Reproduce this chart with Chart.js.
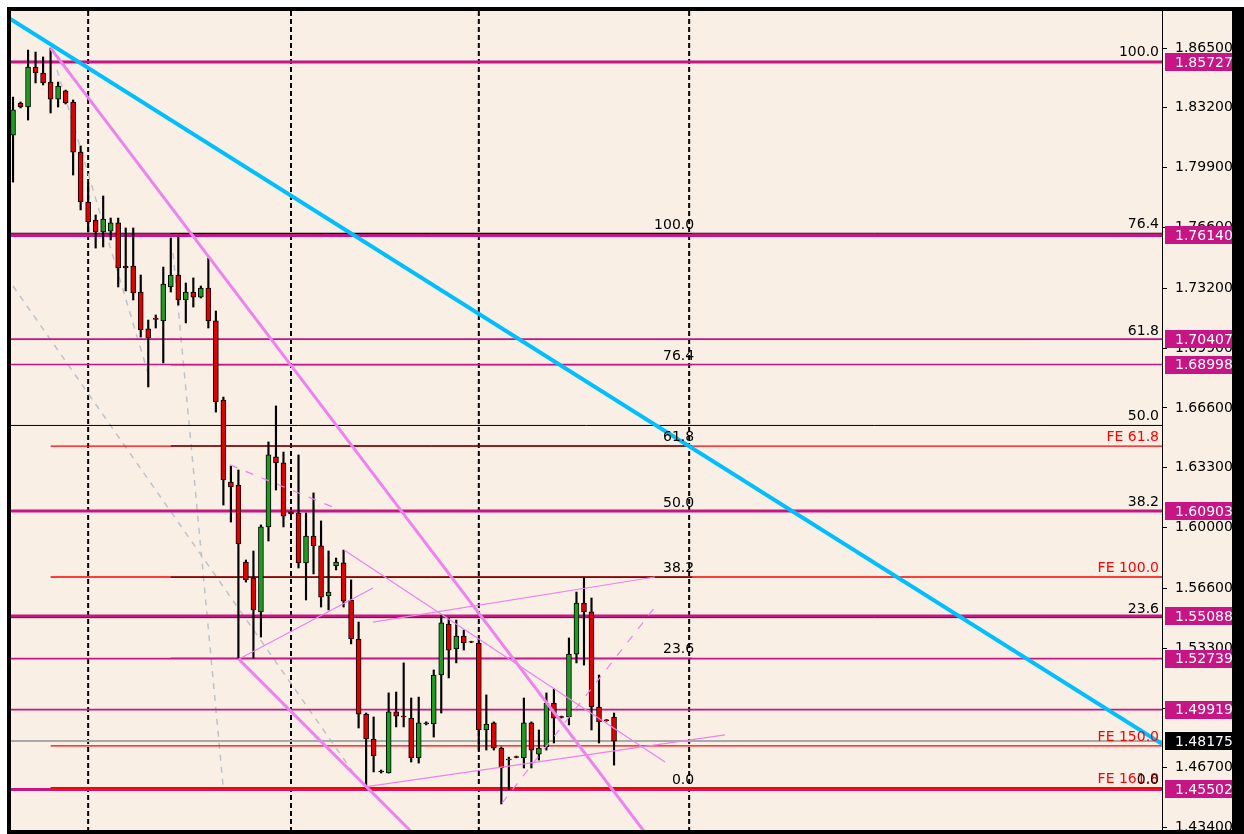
<!DOCTYPE html>
<html>
<head>
<meta charset="utf-8">
<script src="https://cdn.jsdelivr.net/npm/chart.js@4.4.0/dist/chart.umd.min.js"></script>
<style>
html,body{margin:0;padding:0;background:#fff;}
#wrap{width:1244px;height:834px;position:relative;}
canvas{display:block;}
</style>
</head>
<body>
<div id="wrap"><canvas id="c" width="1244" height="834"></canvas></div>
<script>
// ---------- DATA ----------
const barIndex = [0,1,2,3,4,5,6,7,8,9,10,11,12,13,14,15,16,17,18,19,20,21,22,23,24,25,26,27,28,29,30,31,32,33,34,35,36,37,38,39,40,41,42,43,44,45,46,47,48,49,50,51,52,53,54,55,56,57,58,59,60,61,62,63,64,65,66,67,68,69,70,71,72,73,74,75,76,77,78,79,80];

const opens = [1.8169,1.8346,1.8324,1.8545,1.8512,1.8462,1.8368,1.8413,1.8352,1.8075,
1.7799,1.7699,1.7633,1.7638,1.7683,1.7445,1.7445,1.7301,1.7097,1.7157,
1.7141,1.7329,1.7395,1.7257,1.7301,1.7273,1.7323,1.7141,1.6704,1.6250,
1.6234,1.5808,1.5720,1.5532,1.6002,1.6389,1.6356,1.6085,1.6079,1.5803,
1.5952,1.5897,1.5620,1.5786,1.5803,1.5598,1.5382,1.4967,1.4829,1.4652,
1.4641,1.4979,1.4956,1.4945,1.4724,1.4918,1.4912,1.5183,1.5465,1.5327,
1.5399,1.5368,1.5360,1.4879,1.4918,1.4779,1.4713,1.4732,1.4724,1.4918,
1.4746,1.4785,1.5028,1.4953,1.4951,1.5299,1.5581,1.5532,1.5006,1.4935,
1.4951];

const highs = [1.8379,1.8352,1.8639,1.8628,1.8601,1.8650,1.8462,1.8418,1.8363,1.8109,
1.7904,1.7727,1.7832,1.7710,1.7710,1.7655,1.7655,1.7395,1.7146,1.7174,
1.7439,1.7600,1.7605,1.7351,1.7379,1.7334,1.7489,1.7196,1.6720,1.6339,
1.6317,1.5819,1.5869,1.6013,1.6472,1.6671,1.6416,1.6090,1.6400,1.6079,
1.6190,1.6035,1.5869,1.5830,1.5874,1.5709,1.5476,1.4973,1.4951,1.4658,
1.5084,1.5089,1.5250,1.5056,1.5061,1.4924,1.5211,1.5515,1.5498,1.5487,
1.5432,1.5370,1.5382,1.5073,1.4924,1.4785,1.4729,1.4735,1.5056,1.4924,
1.4879,1.5084,1.5106,1.4956,1.5388,1.5642,1.5720,1.5609,1.5183,1.4937,
1.4973];

const lows = [1.7909,1.8319,1.8252,1.8457,1.8446,1.8291,1.8324,1.8341,1.7948,1.7755,
1.7633,1.7544,1.7550,1.7589,1.7329,1.7307,1.7257,1.7052,1.6776,1.7102,
1.6909,1.7301,1.7229,1.7130,1.7218,1.7268,1.7102,1.6637,1.6123,1.6029,
1.5277,1.5697,1.5277,1.5393,1.5924,1.6206,1.6002,1.6068,1.5775,1.5598,
1.5742,1.5559,1.5543,1.5764,1.5559,1.5355,1.4890,1.4558,1.4647,1.4641,
1.4641,1.4896,1.4896,1.4702,1.4696,1.4907,1.4840,1.4973,1.5167,1.5250,
1.5321,1.5362,1.4768,1.4768,1.4768,1.4470,1.4547,1.4725,1.4669,1.4669,
1.4713,1.4768,1.4807,1.4945,1.4907,1.5250,1.5238,1.4879,1.4807,1.4927,
1.4685];

const closes = [1.8308,1.8324,1.8545,1.8512,1.8457,1.8368,1.8440,1.8346,1.8075,1.7799,
1.7688,1.7633,1.7705,1.7683,1.7434,1.7434,1.7296,1.7091,1.7047,1.7149,
1.7345,1.7395,1.7257,1.7301,1.7273,1.7323,1.7141,1.6693,1.6262,1.6223,
1.5908,1.5709,1.5543,1.6002,1.6400,1.6356,1.6062,1.6074,1.5803,1.5952,
1.5897,1.5614,1.5642,1.5808,1.5592,1.5382,1.4967,1.4829,1.4735,1.4647,
1.4979,1.4956,1.4951,1.4724,1.4918,1.4913,1.5183,1.5471,1.5321,1.5399,
1.5360,1.5364,1.4879,1.4912,1.4779,1.4669,1.4718,1.4728,1.4918,1.4768,
1.4779,1.5028,1.4945,1.4949,1.5299,1.5581,1.5532,1.5006,1.4923,1.4930,
1.48175];

// y-axis tick labels
const yTicks = [1.865,1.832,1.799,1.766,1.732,1.699,1.666,1.633,1.600,1.566,1.533,1.500,1.467,1.434];

// horizontal price levels (magenta) and which are drawn heavy
const levelPrices = [1.85727,1.76140,1.70407,1.68998,1.60903,1.55088,1.52739,1.49919,1.45502];
const levelHeavy  = [true,true,false,false,true,true,false,false,true];

// current bid
const bidPrice = 1.48175;

// Fibonacci retracement A (full width) and B (bar 21 .. 90.4)
const fibLevels = [100,76.4,61.8,50,38.2,23.6,0];
const fibAHigh = 1.8576, fibALow = 1.45502;
const fibBHigh = 1.7624, fibBLow = 1.45502;
const fibBStartBar = 21, fibBEndBar = 90.4;

// Fibonacci expansion levels
const feNames  = ['FE 61.8','FE 100.0','FE 150.0','FE 161.8'];
const fePrices = [1.6449,1.5725,1.4791,1.4558];
const feStartBar = 5;

// period separators (bar index)
const separatorBars = [10,37,62,90];

// trend lines: [bar1, price1, bar2, price2]
const cyanLine    = [-0.13,1.8805,152.94,1.48017];
const violetRay1  = [5,1.8650,80,1.4538];
const violetRay2  = [30,1.5272,50,1.4442];
const thinSegments = [
  [30.08,1.5272,47.92,1.5664],
  [44.06,1.5875,86.79,1.4702],
  [47.92,1.5476,85.46,1.5725],
  [46.86,1.4564,94.78,1.4852]
];
const thinDashed = [
  [65.09,1.4475,85.46,1.5559],
  [28.88,1.6345,42.86,1.6107]
];
const grayDashed = [
  [0,1.7334,45.52,1.4630],
  [5.86,1.8529,18.24,1.6815],
  [21.3,1.7517,27.95,1.4575]
];

// ---------- CHART ----------
const XMIN = -0.27, XMAX = 152.94;
const YMIN = 1.4326, YMAX = 1.8855;
const FONT_FAMILY = '"DejaVu Sans", Verdana, sans-serif';
const MAGENTA = '#C71585';
const VIOLET = '#EE82EE';

function seg(a){ return [{x:a[0],y:a[1]},{x:a[2],y:a[3]}]; }
function ray(a, both){
  const s = (a[3]-a[1])/(a[2]-a[0]);
  const xe = XMAX + 10, xs = XMIN - 10;
  const pts = [];
  if (both) pts.push({x:xs, y:a[1] + s*(xs-a[0])});
  else pts.push({x:a[0], y:a[1]});
  pts.push({x:xe, y:a[1] + s*(xe-a[0])});
  return pts;
}
function lineDS(data, color, width, order, dash, clip){
  return {type:'line', data, borderColor:color, borderWidth:width, borderDash:dash||[],
          pointRadius:0, fill:false, tension:0, order, clip: clip===undefined?0:clip, spanGaps:true};
}

const datasets = [];
// trend lines
datasets.push(lineDS(ray(cyanLine,true), '#00BFFF', 4, 1));
datasets.push(lineDS(ray(violetRay1,false), VIOLET, 3, 1));
datasets.push(lineDS(ray(violetRay2,false), VIOLET, 3, 1));
thinSegments.forEach(s => datasets.push(lineDS(seg(s), VIOLET, 1.2, 2)));
thinDashed.forEach(s => datasets.push(lineDS(seg(s), VIOLET, 1.2, 2, [8,9])));
// candles
datasets.push({
  type:'bar', order:3, grouped:false, barThickness:5,
  data: barIndex.map((b,i)=>({x:b, y:[opens[i], closes[i]]})),
  backgroundColor: barIndex.map((b,i)=> closes[i] >= opens[i] ? '#1E9B1E' : '#E00000'),
  borderColor:'#000', borderWidth:1, borderSkipped:false
});
datasets.push({
  type:'bar', order:4, grouped:false, barThickness:1.5,
  data: barIndex.map((b,i)=>({x:b, y:[lows[i], highs[i]]})),
  backgroundColor:'#000', borderWidth:0
});
// magenta levels (above fib lines)
levelPrices.forEach((v,i) => datasets.push(lineDS([{x:XMIN,y:v},{x:XMAX,y:v}], MAGENTA, levelHeavy[i]?3:1.6, 4.5)));
// fib A
fibLevels.forEach(l => {
  const v = fibALow + (fibAHigh-fibALow)*l/100;
  datasets.push(lineDS([{x:XMIN,y:v},{x:XMAX,y:v}], '#000', 1, 5));
});
// fib B
fibLevels.forEach(l => {
  const v = fibBLow + (fibBHigh-fibBLow)*l/100;
  datasets.push(lineDS([{x:fibBStartBar,y:v},{x:fibBEndBar,y:v}], '#000', 1, 5));
});
// FE (last level drawn over the magenta support line)
fePrices.forEach((v,i) => datasets.push(lineDS([{x:feStartBar,y:v},{x:XMAX,y:v}], '#FF0000', i===3?2:1.3, i===3?4.3:6)));
// bid
datasets.push(lineDS([{x:XMIN,y:bidPrice},{x:XMAX,y:bidPrice}], '#A9A9A9', 2, 7));
// gray dashed
grayDashed.forEach(s => datasets.push(lineDS(seg(s), '#BCC3CC', 1.5, 9, [6,6])));
// separators
separatorBars.forEach(b => datasets.push(lineDS([{x:b,y:YMIN-0.01},{x:b,y:YMAX+0.01}], '#000', 2, 10, [5,3])));

const bgPlugin = {
  id:'bg',
  beforeDraw(chart){
    const ctx = chart.ctx;
    ctx.save();
    ctx.fillStyle = '#FAEFE5';
    ctx.fillRect(0,0,chart.width,chart.height);
    ctx.restore();
  }
};

const overlay = {
  id:'overlay',
  afterDatasetsDraw(chart){
    const {ctx, scales:{x,y}} = chart;
    ctx.save();
    ctx.font = '14px ' + FONT_FAMILY;
    ctx.textAlign = 'right';
    ctx.textBaseline = 'alphabetic';
    // FE labels
    ctx.fillStyle = '#FF0000';
    fePrices.forEach((v,i)=> ctx.fillText(feNames[i], x.right - 3, y.getPixelForValue(v) - 5));
    // fib A labels
    ctx.fillStyle = '#000';
    fibLevels.forEach(l => {
      const v = fibALow + (fibAHigh-fibALow)*l/100;
      ctx.fillText(l.toFixed(1), x.right - 3, y.getPixelForValue(v) - 5);
    });
    // fib B labels
    const xb = x.getPixelForValue(fibBEndBar) + 2;
    fibLevels.forEach(l => {
      const v = fibBLow + (fibBHigh-fibBLow)*l/100;
      ctx.fillText(l.toFixed(1), xb, y.getPixelForValue(v) - 5);
    });
    ctx.restore();
  },
  afterDraw(chart){
    const {ctx, scales:{y}, chartArea} = chart;
    ctx.save();
    ctx.font = '14px ' + FONT_FAMILY;
    ctx.textAlign = 'left';
    ctx.textBaseline = 'middle';
    const bx = chartArea.right + 3;
    function box(v, fill){
      const py = y.getPixelForValue(v);
      ctx.fillStyle = fill;
      ctx.fillRect(bx, Math.round(py) - 9, 90, 18);
      ctx.fillStyle = '#fff';
      ctx.fillText(v.toFixed(5), chartArea.right + 13, py + 1);
    }
    levelPrices.forEach(v => box(v, MAGENTA));
    box(bidPrice, '#000');
    // frame
    const W = chart.width, H = chart.height;
    ctx.fillStyle = '#fff';
    ctx.fillRect(0,0,W,7);
    ctx.fillRect(0,0,7,H);
    ctx.fillStyle = '#000';
    ctx.fillRect(7,7,W-7,4);
    ctx.fillRect(7,7,4,H-7);
    ctx.fillRect(1232,7,W-1232,H-7);
    ctx.fillRect(7,830,W-7,H-830);
    ctx.restore();
  }
};

new Chart(document.getElementById('c'), {
  type:'bar',
  data:{datasets},
  options:{
    responsive:false, animation:false, devicePixelRatio:1, events:[],
    layout:{padding:{left:11, top:11, right:12, bottom:4}},
    plugins:{legend:{display:false}, tooltip:{enabled:false}},
    scales:{
      x:{type:'linear', min:XMIN, max:XMAX, display:false, offset:false, grid:{display:false}},
      y:{type:'linear', position:'right', min:YMIN, max:YMAX,
         afterBuildTicks: s => { s.ticks = yTicks.map(v => ({value:v})); },
         afterFit: s => { s.width = 70; s.paddingTop = 0; s.paddingBottom = 0; },
         grid:{drawOnChartArea:false, drawTicks:true, tickLength:5, tickColor:'#000', tickWidth:1},
         border:{display:true, color:'#000', width:1},
         ticks:{color:'#000', font:{family:FONT_FAMILY, size:14}, padding:8, autoSkip:false,
                callback: v => Number(v).toFixed(5)}
      }
    }
  },
  plugins:[bgPlugin, overlay]
});
</script>
</body>
</html>
